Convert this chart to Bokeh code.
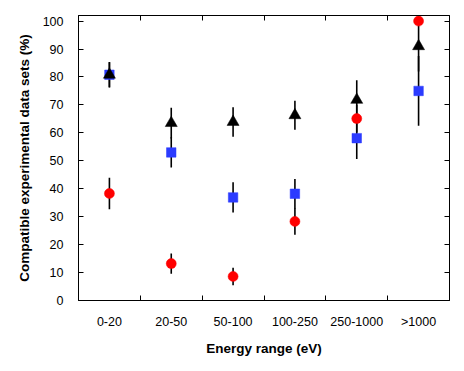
from bokeh.plotting import figure
from bokeh.models import Range1d, FixedTicker, LinearAxis
from bokeh.embed import file_html
from bokeh.resources import INLINE

categories = ["0-20", "20-50", "50-100", "100-250", "250-1000", ">1000"]
y_ticks = [0, 10, 20, 30, 40, 50, 60, 70, 80, 90, 100]

red_values = [38.3, 13.2, 8.6, 28.3, 65.1, 100.0]
red_errors = [5.6, 3.6, 3.1, 4.8, 5.0, 0.0]
blue_values = [80.8, 53.0, 36.9, 38.2, 58.1, 75.0]
blue_errors = [4.5, 5.4, 5.4, 5.3, 7.5, 12.5]
black_values = [80.8, 63.5, 63.9, 66.3, 71.8, 91.0]
black_errors = [4.6, 5.5, 5.3, 5.2, 7.0, 9.0]

x_centers = [i + 0.5 for i in range(len(categories))]
x_bounds = [float(i) for i in range(1, len(categories))]

FONT = "Liberation Sans"

p = figure(width=464, height=371, x_range=Range1d(0, len(categories)),
           y_range=Range1d(0, 102), output_backend="svg", toolbar_location=None,
           x_axis_type=None, y_axis_type=None,
           min_border_left=78, min_border_right=15, min_border_top=15, min_border_bottom=71)
p.outline_line_color = "black"
p.outline_line_alpha = 1.0
p.outline_line_width = 1
p.background_fill_color = "white"
p.border_fill_color = "white"

def style_axis(ax):
    ax.axis_line_color = "black"
    ax.major_tick_line_color = "black"
    ax.minor_tick_line_color = "black"
    ax.major_label_text_color = "black"
    ax.major_label_text_font = FONT
    ax.axis_label_text_font = FONT
    ax.axis_label_text_font_style = "bold"
    ax.axis_label_text_color = "black"

# bottom axis: labels at category centres, ticks at boundaries
xb = LinearAxis(ticker=FixedTicker(ticks=x_centers, minor_ticks=x_bounds),
                major_label_overrides={c: n for c, n in zip(x_centers, categories)})
style_axis(xb)
xb.major_tick_in = 0
xb.major_tick_out = 0
xb.minor_tick_in = 5
xb.minor_tick_out = 0
xb.major_label_text_font_size = "12.5px"
xb.major_label_standoff = 14
xb.axis_label = "Energy range (eV)"
xb.axis_label_text_font_size = "13.5px"
xb.axis_label_standoff = 9
p.add_layout(xb, "below")

xt = LinearAxis(ticker=FixedTicker(ticks=x_centers, minor_ticks=x_bounds))
style_axis(xt)
xt.major_tick_in = 0
xt.major_tick_out = 0
xt.minor_tick_in = 5
xt.minor_tick_out = 0
xt.major_label_text_font_size = "0px"
xt.major_label_text_alpha = 0
xt.major_label_standoff = 0
p.add_layout(xt, "above")

yl = LinearAxis(ticker=FixedTicker(ticks=y_ticks))
style_axis(yl)
yl.major_tick_in = 5
yl.major_tick_out = 0
yl.minor_tick_in = 0
yl.minor_tick_out = 0
yl.major_label_text_font_size = "12.5px"
yl.major_label_standoff = 15
yl.axis_label = "Compatible experimental data sets (%)"
yl.axis_label_text_font_size = "13.5px"
yl.axis_label_standoff = 8
p.add_layout(yl, "left")

yr = LinearAxis(ticker=FixedTicker(ticks=y_ticks))
style_axis(yr)
yr.major_tick_in = 5
yr.major_tick_out = 0
yr.minor_tick_in = 0
yr.minor_tick_out = 0
yr.major_label_text_font_size = "0px"
yr.major_label_text_alpha = 0
yr.major_label_standoff = 0
p.add_layout(yr, "right")

series = [
    (blue_values, blue_errors, "square", 9.5, "#2b3bff"),
    (black_values, black_errors, "triangle", 12, "black"),
    (red_values, red_errors, "circle", 10, "#ff0000"),
]

for vals, errs, _, _, _ in series:
    lo = [v - e for v, e in zip(vals, errs)]
    hi = [v + e for v, e in zip(vals, errs)]
    p.segment(x0=x_centers, y0=lo, x1=x_centers, y1=hi, line_color="black", line_width=1.6)

for vals, errs, marker, size, color in series:
    p.scatter(x=x_centers, y=vals, marker=marker, size=size,
              fill_color=color, line_color=color, line_width=0.5)

open("out.html", "w").write(file_html(p, INLINE))
